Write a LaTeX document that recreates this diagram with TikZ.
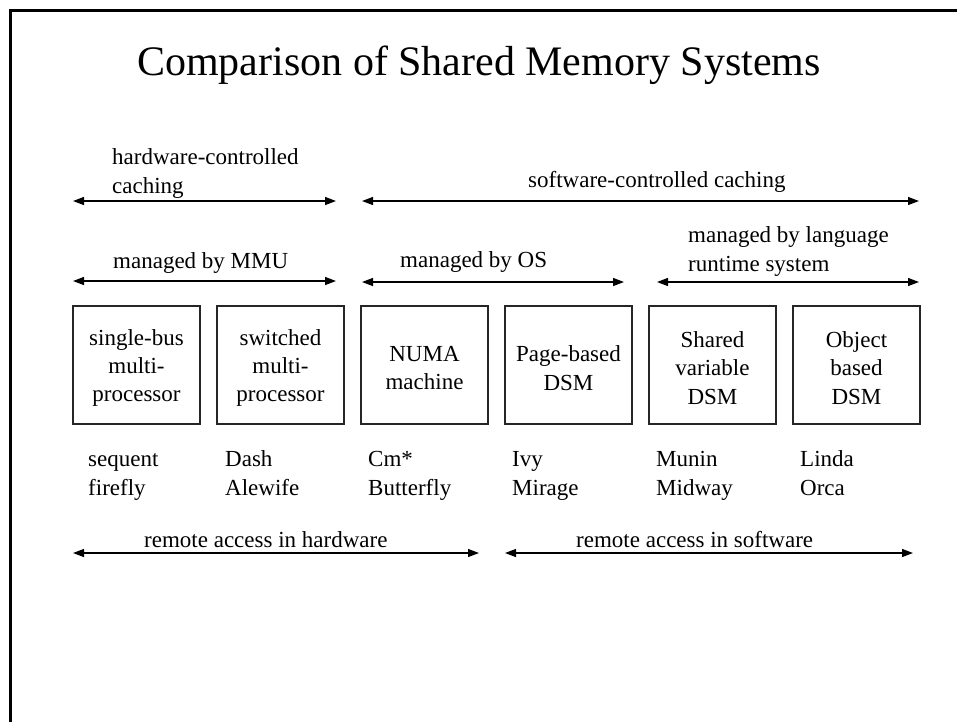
\documentclass[tikz,border=0pt]{standalone}
\usepackage{fontspec}
\setmainfont{Liberation Serif}
\usetikzlibrary{arrows.meta}
\begin{document}
\begin{tikzpicture}[x=1pt,y=-1pt,
  lbl/.style={font=\fontsize{23}{28.5}\selectfont, inner sep=0pt, anchor=base west, align=left},
  box/.style={draw=black!85, line width=1.1pt, minimum width=127pt, minimum height=118pt, inner sep=0pt},
  boxtxt/.style={align=center, font=\fontsize{23}{28.3}\selectfont, inner sep=0pt, yshift=-3pt},
  dbl/.style={{Triangle[length=11pt,width=8pt]}-{Triangle[length=11pt,width=8pt]}, line width=1.3pt}]
\useasboundingbox (0,0) rectangle (957,721);
\draw[line width=3pt] (10,730) -- (10,10) -- (970,10);
\node[font=\fontsize{42}{50}\selectfont, inner sep=0pt] (title) at (479,65) {Comparison of Shared Memory Systems};

% arrows
\coordinate (a1l) at (73,201);  \coordinate (a1r) at (336,201);
\coordinate (a2l) at (362,201); \coordinate (a2r) at (919,201);
\coordinate (a3l) at (73,281);  \coordinate (a3r) at (336,281);
\coordinate (a4l) at (362,282); \coordinate (a4r) at (624,282);
\coordinate (a5l) at (657,282); \coordinate (a5r) at (919,282);
\coordinate (a6l) at (73,553);  \coordinate (a6r) at (479,553);
\coordinate (a7l) at (505,553); \coordinate (a7r) at (913,553);
\foreach \i in {1,...,7} {\draw[dbl] (a\i l) -- (a\i r);}

% labels (base = baseline of the last line)
\node[lbl] (hwc) at (112,193) {hardware-controlled\\caching};
\node[lbl] (swc) at (528,187) {software-controlled caching};
\node[lbl] (mmu) at (113,268) {managed by MMU};
\node[lbl] (os) at (400,267) {managed by OS};
\node[lbl] (lang) at (688,271) {managed by language\\runtime system};
\node[lbl] (rhw) at (144,547) {remote access in hardware};
\node[lbl] (rsw) at (576,547) {remote access in software};

% boxes
\foreach \i/\x in {1/136.5,2/280.5,3/424.5,4/568.5,5/712.5,6/856.5}
  {\node[box] (b\i) at (\x,365) {};}
\node[boxtxt] (t1) at (b1) {single-bus\\multi-\\processor};
\node[boxtxt] (t2) at (b2) {switched\\multi-\\processor};
\node[boxtxt] (t3) at (b3) {NUMA\\machine};
\node[boxtxt] (t4) at (b4) {Page-based\\DSM};
\node[boxtxt] (t5) at (b5) {Shared\\variable\\DSM};
\node[boxtxt] (t6) at (b6) {Object\\based\\DSM};

% examples
\node[lbl] (e1) at (88,495) {sequent\\firefly};
\node[lbl] (e2) at (225,495) {Dash\\Alewife};
\node[lbl] (e3) at (368,495) {Cm*\\Butterfly};
\node[lbl] (e4) at (512,495) {Ivy\\Mirage};
\node[lbl] (e5) at (656,495) {Munin\\Midway};
\node[lbl] (e6) at (800,495) {Linda\\Orca};
\end{tikzpicture}
\end{document}
